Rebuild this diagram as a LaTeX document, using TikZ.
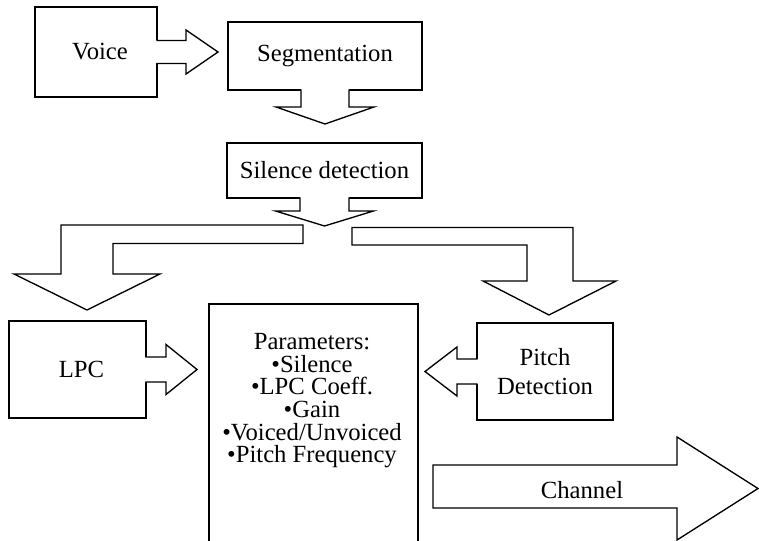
\documentclass[tikz,border=0pt]{standalone}
\usepackage{fontspec}
\setmainfont{Liberation Serif}

\begin{document}
\begin{tikzpicture}[x=0.75pt, y=-0.75pt,
    every node/.style={font=\fontsize{18.5}{17}\selectfont},
    box/.style={draw, line width=1pt, outer sep=0pt, inner sep=0pt, align=center},
    blockline/.style={line width=1pt, line join=miter, fill=white},
    pics/blockarr/.style args={#1/#2/#3/#4}{code={
      \fill[white] (-1.6,-#2) rectangle (1,#2);
      \draw[line width=1pt, preaction={fill=white}]
        (-0.7,-#2) -- (#1,-#2) -- (#1,-#3) -- (#4,0) -- (#1,#3) -- (#1,#2) -- (-0.7,#2);}}]
  \clip (0,0) rectangle (759,541);
  % the boxes
  \node[box, minimum width=91.5pt, minimum height=67.5pt] (voice) at (96,52) {\hspace{6pt}Voice};
  \node[box, minimum width=145.5pt, minimum height=51pt] (seg) at (325,56) {Segmentation};
  \node[box, minimum width=146.25pt, minimum height=41.25pt] (sil) at (324.5,170.5) {Silence detection};
  \node[box, minimum width=102.75pt, minimum height=72.75pt] (lpc) at (77.5,369.5) {\hspace{6pt}LPC};
  \node[box, minimum width=102pt, minimum height=72.75pt] (pitch) at (545,371.5) {Pitch\\[4.5pt]Detection};
  \node[box, minimum width=156.75pt, minimum height=195pt, anchor=north] (params) at (313.5,304) {};
  \node[anchor=north, inner sep=0pt, align=center] (paramlist) at (312,333)
    {Parameters:\\•Silence\\•LPC Coeff.\\•Gain\\•Voiced/Unvoiced\\•Pitch Frequency};
  % block arrows joined to the boxes
  \pic at (voice.east) {blockarr=29/11.5/22/61};
  \pic[rotate=-90] at (seg.south) {blockarr=17/24/49/34};
  \pic[rotate=-90] at (sil.south) {blockarr=13/24.5/49/28};
  \pic at (lpc.east) {blockarr=20/12.5/25/51};
  \pic[rotate=180] at (pitch.west) {blockarr=20/12.5/24.5/52};
  % the two branches below silence detection
  \draw[blockline] (303,243.5) -- (113,243.5) -- (113,274) -- (160,274) -- (87,310)
    -- (14,274) -- (61,274) -- (61,225) -- (303,225) -- cycle;
  \draw[blockline] (352,227.5) -- (573,227.5) -- (573,281) -- (616,281) -- (549,315)
    -- (483,281) -- (527,281) -- (527,245) -- (352,245) -- cycle;
  % the output arrow
  \draw[blockline] (433,465) -- (677,465) -- (677,437) -- (758,488.5) -- (677,540)
    -- (677,508) -- (433,508) -- cycle;
  \node (channel) at (582,490) {Channel};
\end{tikzpicture}
\end{document}
